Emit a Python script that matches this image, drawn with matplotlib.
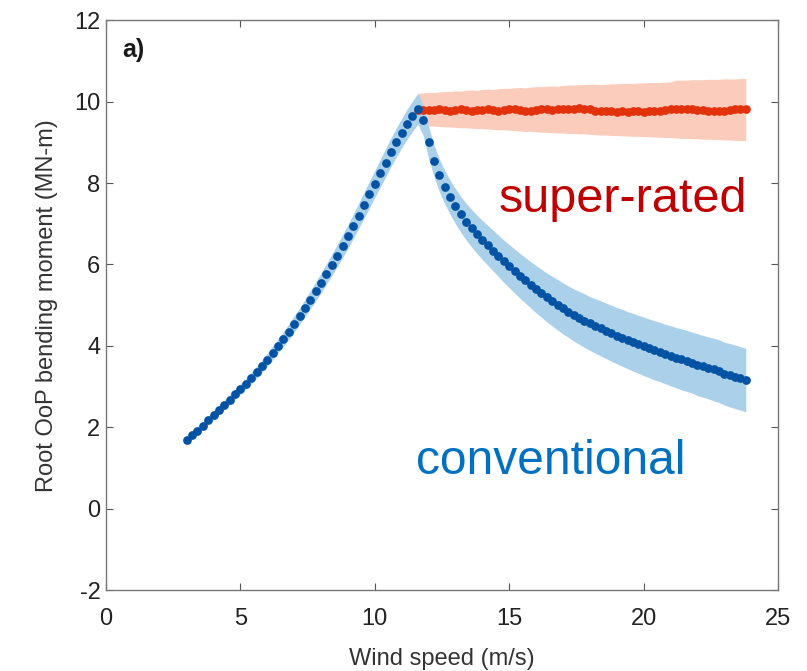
import numpy as np
import matplotlib
matplotlib.use("Agg")
import matplotlib.pyplot as plt

OUTPUT_FILE = "out.png"

# Wind speed bins (m/s)
wind_speed = [
    3.0, 3.2, 3.4, 3.6, 3.8, 4.0, 4.2, 4.4, 4.6, 4.8,
    5.0, 5.2, 5.4, 5.6, 5.8, 6.0, 6.2, 6.4, 6.6, 6.8,
    7.0, 7.2, 7.4, 7.6, 7.8, 8.0, 8.2, 8.4, 8.6, 8.8,
    9.0, 9.2, 9.4, 9.6, 9.8, 10.0, 10.2, 10.4, 10.6, 10.8,
    11.0, 11.2, 11.4, 11.6, 11.8, 12.0, 12.2, 12.4, 12.6, 12.8,
    13.0, 13.2, 13.4, 13.6, 13.8, 14.0, 14.2, 14.4, 14.6, 14.8,
    15.0, 15.2, 15.4, 15.6, 15.8, 16.0, 16.2, 16.4, 16.6, 16.8,
    17.0, 17.2, 17.4, 17.6, 17.8, 18.0, 18.2, 18.4, 18.6, 18.8,
    19.0, 19.2, 19.4, 19.6, 19.8, 20.0, 20.2, 20.4, 20.6, 20.8,
    21.0, 21.2, 21.4, 21.6, 21.8, 22.0, 22.2, 22.4, 22.6, 22.8,
    23.0, 23.2, 23.4, 23.6, 23.8,
]

# Conventional control: mean root OoP moment (MN-m) and band half-width
conv_mean = [
    1.68, 1.80, 1.92, 2.04, 2.17, 2.29, 2.42, 2.55, 2.68, 2.81,
    2.94, 3.07, 3.21, 3.35, 3.50, 3.66, 3.83, 4.00, 4.17, 4.35,
    4.54, 4.73, 4.93, 5.13, 5.34, 5.55, 5.77, 5.99, 6.22, 6.45,
    6.69, 6.94, 7.20, 7.46, 7.72, 7.98, 8.24, 8.50, 8.76, 9.00,
    9.23, 9.45, 9.64, 9.83, 9.55, 9.00, 8.55, 8.19, 7.90, 7.65,
    7.43, 7.23, 7.05, 6.89, 6.74, 6.60, 6.47, 6.34, 6.21, 6.08,
    5.96, 5.84, 5.72, 5.61, 5.50, 5.39, 5.29, 5.19, 5.10, 5.01,
    4.92, 4.84, 4.76, 4.69, 4.62, 4.55, 4.49, 4.43, 4.37, 4.31,
    4.25, 4.20, 4.14, 4.09, 4.04, 3.99, 3.94, 3.89, 3.85, 3.80,
    3.76, 3.71, 3.67, 3.63, 3.59, 3.54, 3.50, 3.46, 3.42, 3.38,
    3.32, 3.28, 3.24, 3.20, 3.16,
]
conv_spread = [
    0.08, 0.08, 0.09, 0.09, 0.10, 0.10, 0.11, 0.11, 0.12, 0.12,
    0.13, 0.13, 0.14, 0.15, 0.15, 0.16, 0.17, 0.17, 0.18, 0.19,
    0.20, 0.20, 0.21, 0.22, 0.23, 0.24, 0.25, 0.26, 0.27, 0.28,
    0.29, 0.30, 0.31, 0.32, 0.33, 0.33, 0.34, 0.35, 0.35, 0.36,
    0.36, 0.37, 0.37, 0.38, 0.38, 0.39, 0.39, 0.40, 0.41, 0.42,
    0.43, 0.44, 0.45, 0.46, 0.47, 0.48, 0.49, 0.50, 0.51, 0.52,
    0.53, 0.54, 0.55, 0.56, 0.57, 0.58, 0.59, 0.60, 0.61, 0.62,
    0.63, 0.63, 0.64, 0.65, 0.66, 0.66, 0.67, 0.68, 0.68, 0.69,
    0.69, 0.70, 0.70, 0.71, 0.71, 0.72, 0.72, 0.73, 0.73, 0.73,
    0.74, 0.74, 0.75, 0.75, 0.75, 0.76, 0.76, 0.76, 0.77, 0.77,
    0.77, 0.78, 0.78, 0.78, 0.78,
]

# Super-rated control (above rated wind speed)
sr_speed = wind_speed[43:]
sr_mean = [
    9.80, 9.79, 9.80, 9.79, 9.81, 9.80, 9.78, 9.80, 9.81, 9.79,
    9.77, 9.79, 9.80, 9.81, 9.80, 9.78, 9.80, 9.82, 9.81, 9.79,
    9.76, 9.78, 9.80, 9.81, 9.82, 9.80, 9.81, 9.83, 9.82, 9.83,
    9.84, 9.83, 9.82, 9.78, 9.76, 9.76, 9.76, 9.75, 9.76, 9.75,
    9.76, 9.76, 9.75, 9.76, 9.76, 9.77, 9.80, 9.83, 9.83, 9.82,
    9.81, 9.82, 9.80, 9.79, 9.78, 9.77, 9.78, 9.77, 9.79, 9.82,
    9.82, 9.81,
]
sr_upper = [
    10.20, 10.22, 10.23, 10.22, 10.24, 10.25, 10.25, 10.27, 10.26, 10.28,
    10.29, 10.28, 10.30, 10.31, 10.30, 10.32, 10.33, 10.33, 10.34, 10.35,
    10.34, 10.36, 10.37, 10.37, 10.38, 10.39, 10.38, 10.40, 10.41, 10.41,
    10.42, 10.42, 10.43, 10.43, 10.42, 10.43, 10.44, 10.44, 10.45, 10.45,
    10.45, 10.46, 10.46, 10.47, 10.47, 10.47, 10.48, 10.49, 10.53, 10.53,
    10.53, 10.54, 10.54, 10.54, 10.55, 10.55, 10.55, 10.56, 10.56, 10.56,
    10.57, 10.57,
]
sr_lower = [
    9.42, 9.41, 9.40, 9.40, 9.39, 9.38, 9.38, 9.37, 9.36, 9.36,
    9.35, 9.34, 9.34, 9.33, 9.32, 9.31, 9.31, 9.30, 9.29, 9.28,
    9.27, 9.27, 9.26, 9.25, 9.25, 9.24, 9.23, 9.23, 9.22, 9.22,
    9.21, 9.21, 9.20, 9.19, 9.18, 9.18, 9.17, 9.17, 9.16, 9.16,
    9.15, 9.15, 9.14, 9.14, 9.13, 9.13, 9.12, 9.12, 9.11, 9.10,
    9.10, 9.09, 9.09, 9.08, 9.08, 9.07, 9.07, 9.06, 9.06, 9.05,
    9.05, 9.04,
]

BLUE = "#0353a4"
BLUE_BAND = "#abd0ea"
RED = "#e2320c"
RED_BAND = "#fbcbbb"

plt.rcParams["font.family"] = ["Liberation Sans Narrow", "Liberation Sans", "DejaVu Sans"]
plt.rcParams["axes.unicode_minus"] = False

fig = plt.figure(figsize=(8.07, 6.71), dpi=100)
ax = fig.add_axes([0.1314, 0.1207, 0.8327, 0.849])

x = np.array(wind_speed)
m = np.array(conv_mean)
s = np.array(conv_spread)

ax.fill_between(sr_speed, sr_lower, sr_upper, color=RED_BAND, linewidth=0)
ax.fill_between(x, m - s, m + s, color=BLUE_BAND, linewidth=0)
ax.plot(sr_speed, sr_mean, "o", color=RED, markersize=6.3, markeredgewidth=0)
ax.plot(x, m, "o", color=BLUE, markersize=6.3, markeredgewidth=0)

ax.text(14.6, 7.3, "super-rated", color="#c00000", fontsize=35,
        family=["Liberation Sans", "DejaVu Sans"])
ax.text(11.55, 0.85, "conventional", color="#0070c0", fontsize=34.5,
        family=["Liberation Sans", "DejaVu Sans"])
ax.text(0.6, 11.1, "a)", fontsize=18, fontweight="bold", color="#1a1a1a")

ax.set_xlim(0, 25)
ax.set_ylim(-2, 12)
ax.set_xticks([0, 5, 10, 15, 20, 25])
ax.set_yticks([-2, 0, 2, 4, 6, 8, 10, 12])
ax.set_xlabel("Wind speed (m/s)", fontsize=17, color="#333333", labelpad=13)
ax.set_ylabel("Root OoP bending moment (MN-m)", fontsize=17, color="#333333", labelpad=12)
ax.tick_params(direction="in", top=True, right=True, length=5, width=0.8,
               color="#555555", labelcolor="#222222", labelsize=17)
ax.tick_params(axis="x", pad=13)
ax.tick_params(axis="y", pad=4)
for sp in ax.spines.values():
    sp.set_color("#777777")
    sp.set_linewidth(1.0)

fig.savefig(OUTPUT_FILE, dpi=100)
